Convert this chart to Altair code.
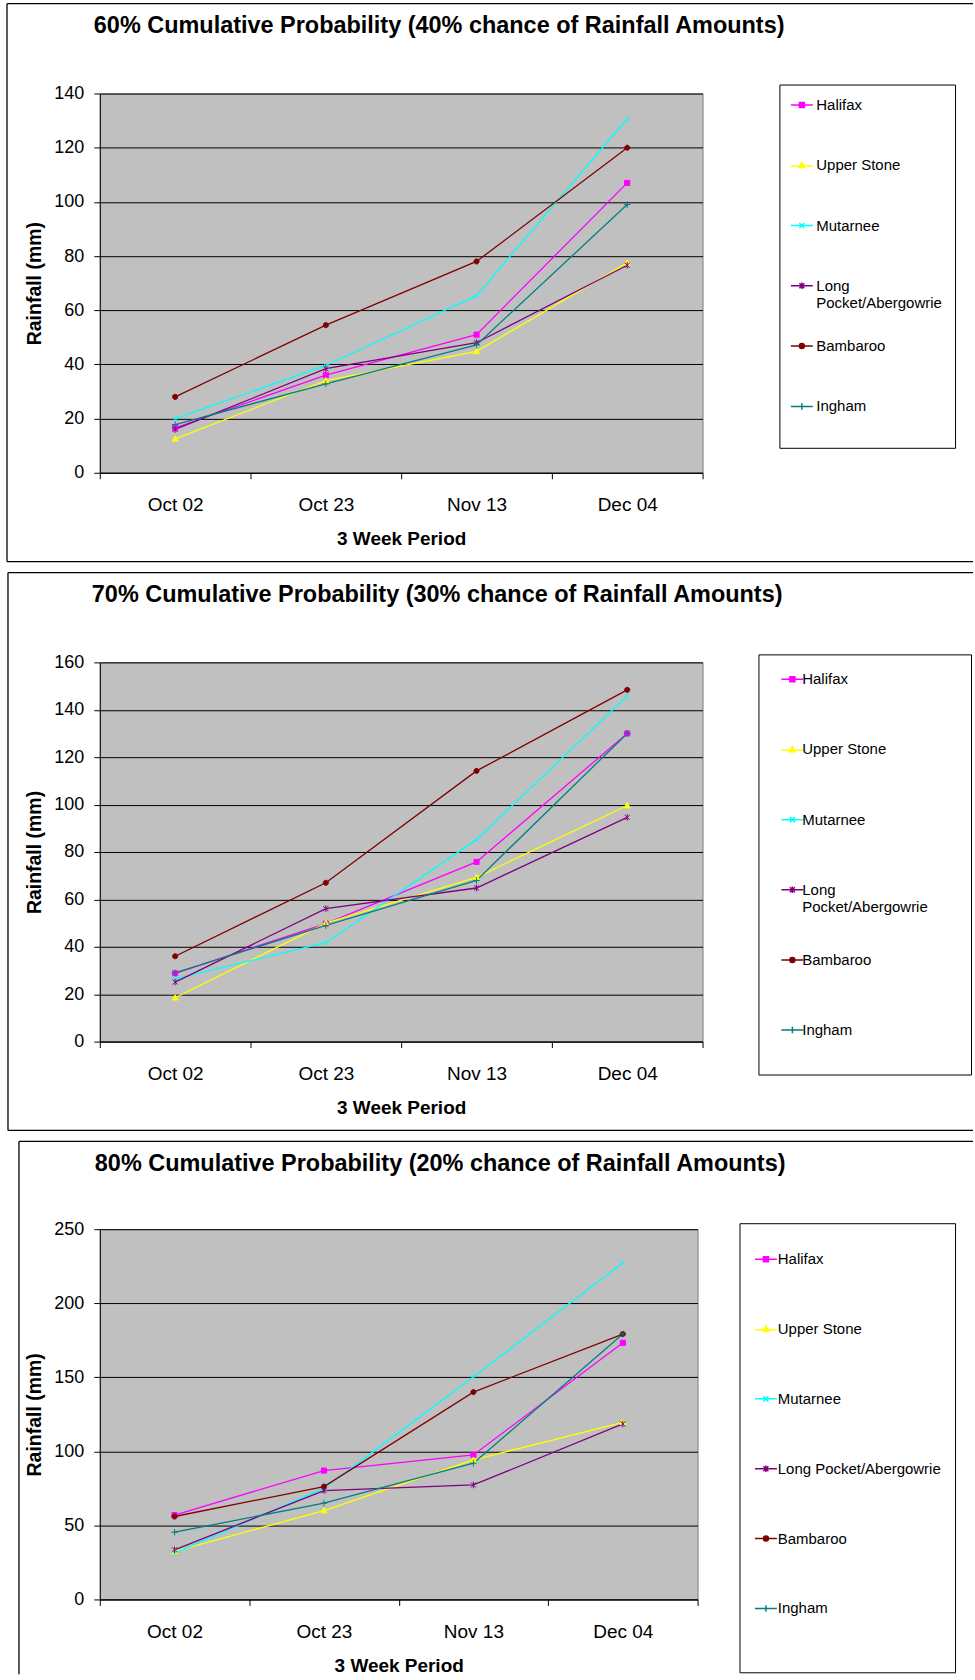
import altair as alt
import pandas as pd

# Categories and series
PERIODS = ["Oct 02", "Oct 23", "Nov 13", "Dec 04"]
SERIES = ["Halifax", "Upper Stone", "Mutarnee", "Long Pocket/Abergowrie", "Bambaroo", "Ingham"]
COLORS = ["#FF00FF", "#FFFF00", "#00FFFF", "#800080", "#800000", "#008080"]

# 60% cumulative probability (mm)
P60_HALIFAX = [16.6, 36, 51, 107]
P60_UPPER_STONE = [12.5, 34, 44.8, 77.5]
P60_MUTARNEE = [20, 39.6, 65.4, 130.7]
P60_LONG_POCKET = [16, 38.4, 48, 76.6]
P60_BAMBAROO = [28, 54.5, 78, 120]
P60_INGHAM = [17.8, 32.8, 47.2, 99]

# 70% cumulative probability (mm)
P70_HALIFAX = [28.8, 49.8, 75.8, 130]
P70_UPPER_STONE = [18.5, 50, 69.3, 99.6]
P70_MUTARNEE = [26.5, 41.7, 85.2, 145.8]
P70_LONG_POCKET = [25.1, 56.1, 64.8, 94.6]
P70_BAMBAROO = [36, 67, 114.2, 148.4]
P70_INGHAM = [29, 49, 68, 130]

# 80% cumulative probability (mm)
P80_HALIFAX = [57, 87, 97.6, 173.3]
P80_UPPER_STONE = [32.4, 60, 94.2, 119.6]
P80_MUTARNEE = [31.3, 75, 150.4, 227.3]
P80_LONG_POCKET = [33.5, 73.5, 77.3, 118.5]
P80_BAMBAROO = [56, 76.2, 140, 179.2]
P80_INGHAM = [45.4, 65, 92, 179.2]

TITLES = [
    "60% Cumulative Probability (40% chance of Rainfall Amounts)",
    "70% Cumulative Probability (30% chance of Rainfall Amounts)",
    "80% Cumulative Probability (20% chance of Rainfall Amounts)",
]

FONT = "Liberation Sans"

# marker outlines in unit coordinates
MARKERS = [
    "M-1,-1H1V1H-1Z",
    "M0,-1.2L1.15,0.9H-1.15Z",
    "M-1,-1L1,1M-1,1L1,-1",
    "M-1,-1L1,1M-1,1L1,-1M0,-1.3V1.3",
    "M1,0A1,1,0,1,1,-1,0A1,1,0,1,1,1,0Z",
    "M-1.3,0H1.3M0,-1.3V1.3",
]


def legend_paths(ox=0.0, left=None, right=None):
    """Key symbols: a short line segment with the series marker on it,
    moved ox units sideways."""
    def p(v):
        return round(v + ox, 3)

    ln = "M{},{}H{}".format(p(-4.4), "{y}", p(4.4))
    paths = [
        ln.format(y=0) + "M{0},-1H{1}V1H{0}Z".format(p(-1), p(1))
        + "M{0},-0.45H{1}V0.45H{0}Z".format(p(-0.45), p(0.45)),
        ln.format(y=0.3) + "M{0},-1.2L{1},0.9H{2}Z".format(p(0), p(1.15), p(-1.15))
        + "M{0},-0.3L{1},0.5H{2}Z".format(p(0), p(0.45), p(-0.45)),
        ln.format(y=0) + "M{0},-1L{1},1M{0},1L{1},-1".format(p(-1), p(1)),
        ln.format(y=0) + "M{0},-1L{1},1M{0},1L{1},-1M{2},-1.3V1.3".format(p(-1), p(1), p(0)),
        ln.format(y=0) + "M{0},0A1,1,0,1,1,{1},0A1,1,0,1,1,{0},0Z".format(p(1), p(-1))
        + "M{0},0A0.4,0.4,0,1,1,{1},0A0.4,0.4,0,1,1,{0},0Z".format(p(0.4), p(-0.4)),
        ln.format(y=0) + "M{0},0H{1}M{2},-1.3V1.3".format(p(-1.3), p(1.3), p(0)),
    ]
    # optional empty points that widen the key box
    pre = "M{},0".format(left) if left is not None else ""
    post = "M{0},0L{0},0".format(right) if right is not None else ""
    return [pre + s + post for s in paths]


def build_frame(rows):
    recs = []
    for s, vals in zip(SERIES, rows):
        for i, (p, v) in enumerate(zip(PERIODS, vals)):
            recs.append({"series": s, "period": p, "idx": i, "rain": v})
    return pd.DataFrame(recs)


ONE = pd.DataFrame([{"k": 0}])


def edge(x, x2, y, y2):
    return alt.Chart(ONE).mark_rule(stroke="black", strokeWidth=1.3).encode(
        x=alt.value(x), x2=alt.value(x2), y=alt.value(y), y2=alt.value(y2))


def panel(rows, title, ymax, ystep, width, height, box, title_xy, key):
    df = build_frame(rows)
    cs = alt.Scale(domain=SERIES, range=COLORS)
    xs = alt.Scale(type="band", domain=PERIODS, paddingInner=0, paddingOuter=0)
    ys = alt.Scale(domain=[0, ymax], nice=False)

    x = alt.X("period:N", sort=PERIODS, scale=xs, axis=alt.Axis(
        title="3 Week Period", labelAngle=0, tickBand="extent", grid=False,
        domainColor="black", tickColor="black", tickSize=6,
        labelFont=FONT, labelFontSize=19, labelColor="black", labelPadding=17,
        titleFont=FONT, titleFontSize=19, titleFontWeight="bold", titleColor="black",
        titlePadding=15))
    y = alt.Y("rain:Q", scale=ys, axis=alt.Axis(
        title="Rainfall (mm)", values=list(range(0, ymax + 1, ystep)),
        grid=True, gridColor="black", gridWidth=1,
        domainColor="black", tickColor="black", tickSize=6,
        labelFont=FONT, labelFontSize=18, labelColor="black", labelPadding=10,
        titleFont=FONT, titleFontSize=19.5, titleFontWeight="bold", titleColor="black",
        titlePadding=9))

    # chart-area border: left, top and (when on screen) bottom edges
    left, right, top, bottom, show_bottom = box
    layers = [edge(left, right, top, top), edge(left, left, top, bottom)]
    if show_bottom:
        layers.append(edge(left, right, bottom, bottom))

    heading = alt.Chart(ONE).mark_text(
        align="left", baseline="alphabetic", font=FONT, fontSize=23.5,
        fontWeight="bold", color="black"
    ).encode(x=alt.value(title_xy[0]), y=alt.value(title_xy[1]), text=alt.value(title))

    lines = alt.Chart(df).mark_line(strokeWidth=1.3).encode(
        x=x, y=y, order=alt.Order("idx:Q"),
        color=alt.Color("series:N", scale=cs, legend=None))

    points = alt.Chart(df).mark_point(filled=True, size=26, strokeWidth=1, opacity=1).encode(
        x=x, y=y,
        fill=alt.Fill("series:N", scale=cs, legend=None),
        stroke=alt.Stroke("series:N", scale=cs, legend=None),
        shape=alt.Shape("series:N", scale=alt.Scale(domain=SERIES, range=MARKERS), legend=None))

    if key["wrap"]:
        # every entry gets two lines so all rows share one height
        label_expr = ("datum.label == 'Long Pocket/Abergowrie' ? "
                      "['Long', 'Pocket/Abergowrie'] : [datum.label, ' ']")
    else:
        label_expr = "datum.label"
    legend_args = dict(
        orient="none", legendX=key["x"], legendY=key["y"],
        title=" ", titleOrient="bottom", titleFontSize=2, titlePadding=key["bottom"],
        direction="vertical", strokeColor="black", fillColor="white",
        padding=key["pad"], rowPadding=key["row"],
        symbolSize=25, symbolStrokeWidth=1.5,
        symbolOpacity=1, symbolOffset=9, labelOffset=key["lo"],
        labelFont=FONT, labelFontSize=15, labelColor="black", labelLimit=400,
        labelExpr=label_expr)
    if key.get("clip"):
        legend_args["clipHeight"] = key["clip"]
    leg = alt.Legend(**legend_args)
    paths = legend_paths(key.get("ox", 0.0), key.get("left"), key.get("right"))
    keylayer = alt.Chart(df).mark_point(filled=False, opacity=0, size=25, strokeWidth=1.5).encode(
        x=x, y=y,
        color=alt.Color("series:N", scale=cs, legend=leg),
        shape=alt.Shape("series:N", scale=alt.Scale(domain=SERIES, range=paths), legend=leg))

    layers += [heading, lines, points, keylayer]
    return alt.layer(*layers).resolve_scale(
        color="independent", shape="independent"
    ).properties(width=width, height=height)


p60 = panel([P60_HALIFAX, P60_UPPER_STONE, P60_MUTARNEE, P60_LONG_POCKET, P60_BAMBAROO, P60_INGHAM],
            TITLES[0], 140, 20, 604, 380, (-93, 875, -90, 469, True), (-6, -61),
            {"x": 681, "y": -9, "pad": 13, "row": 27.4, "bottom": 0.5, "wrap": True,
             "ox": -2.8, "lo": 0})
p70 = panel([P70_HALIFAX, P70_UPPER_STONE, P70_MUTARNEE, P70_LONG_POCKET, P70_BAMBAROO, P70_INGHAM],
            TITLES[1], 160, 20, 604, 380, (-92, 875, -90, 469, True), (-8, -60),
            {"x": 660, "y": -8, "pad": 17.5, "row": 37.3, "bottom": 0, "wrap": True,
             "left": -5.8, "right": 63.4, "lo": 2.4})
p80 = panel([P80_HALIFAX, P80_UPPER_STONE, P80_MUTARNEE, P80_LONG_POCKET, P80_BAMBAROO, P80_INGHAM],
            TITLES[2], 250, 50, 599, 371, (-81, 875, -88, 446, False), (-5, -58),
            {"x": 641, "y": -6, "pad": 14, "row": 26, "clip": 44, "bottom": 26, "wrap": False,
             "ox": -1.6, "lo": 0.4})

chart = alt.vconcat(p60, p70, p80, spacing=7).resolve_scale(
    color="independent", shape="independent", fill="independent", stroke="independent"
).configure_view(
    fill="#C0C0C0", stroke="#808080"
).properties(
    background="white", padding={"left": 5, "top": 0, "right": 0, "bottom": 0}
)

chart.save("out.html", embed_options={"renderer": "svg", "actions": False})
